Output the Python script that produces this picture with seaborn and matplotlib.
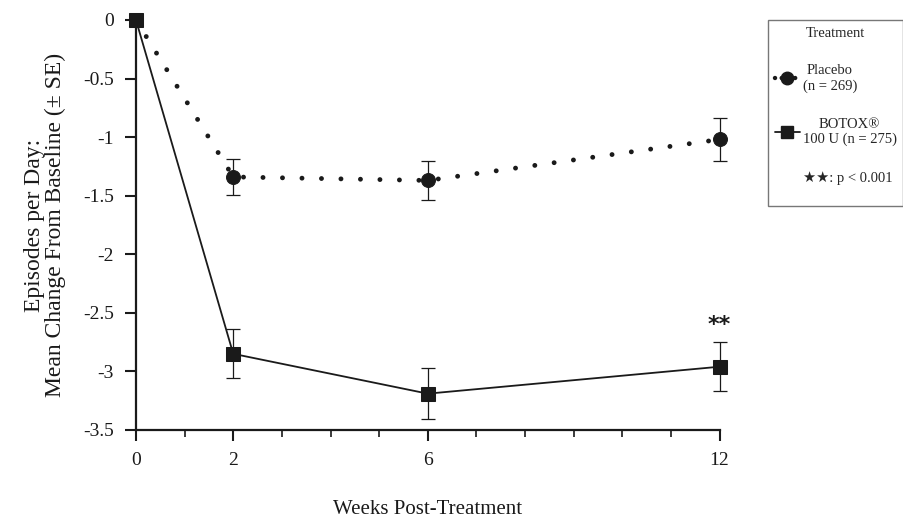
import matplotlib
matplotlib.use("Agg")
import matplotlib.pyplot as plt
from matplotlib.lines import Line2D
import pandas as pd
import seaborn as sns

# values (change from baseline, episodes per day)
weeks = [0, 2, 6, 12]
placebo_mean = [0.0, -1.34, -1.37, -1.02]
placebo_se = [0.0, 0.15, 0.17, 0.18]
botox_mean = [0.0, -2.85, -3.19, -2.96]
botox_se = [0.0, 0.21, 0.22, 0.21]

major_ticks = [0, 2, 6, 12]
y_ticks = [0, -0.5, -1, -1.5, -2, -2.5, -3, -3.5]

placebo = pd.DataFrame({"week": weeks, "mean": placebo_mean, "se": placebo_se})
botox = pd.DataFrame({"week": weeks, "mean": botox_mean, "se": botox_se})

sns.set_style("ticks")
plt.rcParams["font.family"] = ["Liberation Serif", "DejaVu Sans"]
ink = "#1a1a1a"

fig = plt.figure(figsize=(9.04, 5.25), dpi=100)
ax = fig.add_axes([0.1504, 0.181, 0.6456, 0.781])

# placebo: round dots + big circle markers
sns.lineplot(data=placebo, x="week", y="mean", ax=ax, color=ink,
             linestyle=(0, (0.01, 4.0)), dash_capstyle="round", lw=3.5,
             marker="o", markersize=10, markeredgecolor=ink, clip_on=False,
             label="Placebo")
eb = ax.errorbar(placebo["week"][1:], placebo["mean"][1:], yerr=placebo["se"][1:],
                 fmt="none", ecolor=ink, elinewidth=0.9, capsize=5, capthick=0.9)
for art in eb.lines[1] + eb.lines[2]:
    art.set_clip_on(False)

# botox: solid thin line + squares
sns.lineplot(data=botox, x="week", y="mean", ax=ax, color=ink, lw=1.3,
             marker="s", markersize=10, markeredgecolor=ink, clip_on=False,
             label="BOTOX")
eb = ax.errorbar(botox["week"][1:], botox["mean"][1:], yerr=botox["se"][1:],
                 fmt="none", ecolor=ink, elinewidth=0.9, capsize=5, capthick=0.9)
for art in eb.lines[1] + eb.lines[2]:
    art.set_clip_on(False)

# significance marker above week 12
ax.annotate("**", xy=(weeks[-1], botox_mean[-1] + botox_se[-1]), xytext=(0, 5),
            textcoords="offset points", ha="center", va="bottom",
            fontsize=16, fontweight="bold", family="DejaVu Sans", color=ink)

ax.set_xlim(0, 12)
ax.set_ylim(-3.5, 0)
ax.set_xticks(major_ticks)
ax.set_xticks(range(0, 13), minor=True)
ax.set_yticks(y_ticks)
ax.set_yticklabels([f"{v:g}" for v in y_ticks])
ax.tick_params(axis="both", which="major", length=8, width=1.5, labelsize=14,
               colors=ink, pad=8)
ax.tick_params(axis="x", which="minor", length=5, width=1.2, colors=ink)
for side in ["left", "bottom"]:
    ax.spines[side].set_linewidth(1.6)
    ax.spines[side].set_color(ink)
sns.despine(ax=ax)

ax.set_xlabel("Weeks Post-Treatment", fontsize=15, labelpad=22, color=ink)
ax.set_ylabel("Episodes per Day:\nMean Change From Baseline (± SE)", fontsize=17,
              labelpad=12, color=ink, linespacing=1.0)

# legend box (runs off the right edge, as in the reference)
h_pl = Line2D([], [], color=ink, linestyle=(0, (0.01, 1.5)), dash_capstyle="round",
              lw=3.2, marker="o", markersize=9)
h_bo = Line2D([], [], color=ink, lw=1.3, marker="s", markersize=8)
h_blank = Line2D([], [], linestyle="none")
leg = ax.legend([h_pl, h_bo, h_blank],
                ["Placebo\n(n = 269)", "BOTOX®\n100 U (n = 275)", "★★: p < 0.001\n"],
                title="Treatment", loc="upper left",
                bbox_to_anchor=(0.850, 0.962), bbox_transform=fig.transFigure,
                frameon=True, fancybox=False, edgecolor="#555555",
                fontsize=10.5, title_fontsize=10.5, handlelength=1.7,
                handletextpad=0.2, labelspacing=1.7, borderpad=0.45,
                borderaxespad=0)
leg.get_frame().set_linewidth(1.0)
for t in leg.get_texts():
    t.set_multialignment("center")

fig.savefig("out.png", dpi=100)
